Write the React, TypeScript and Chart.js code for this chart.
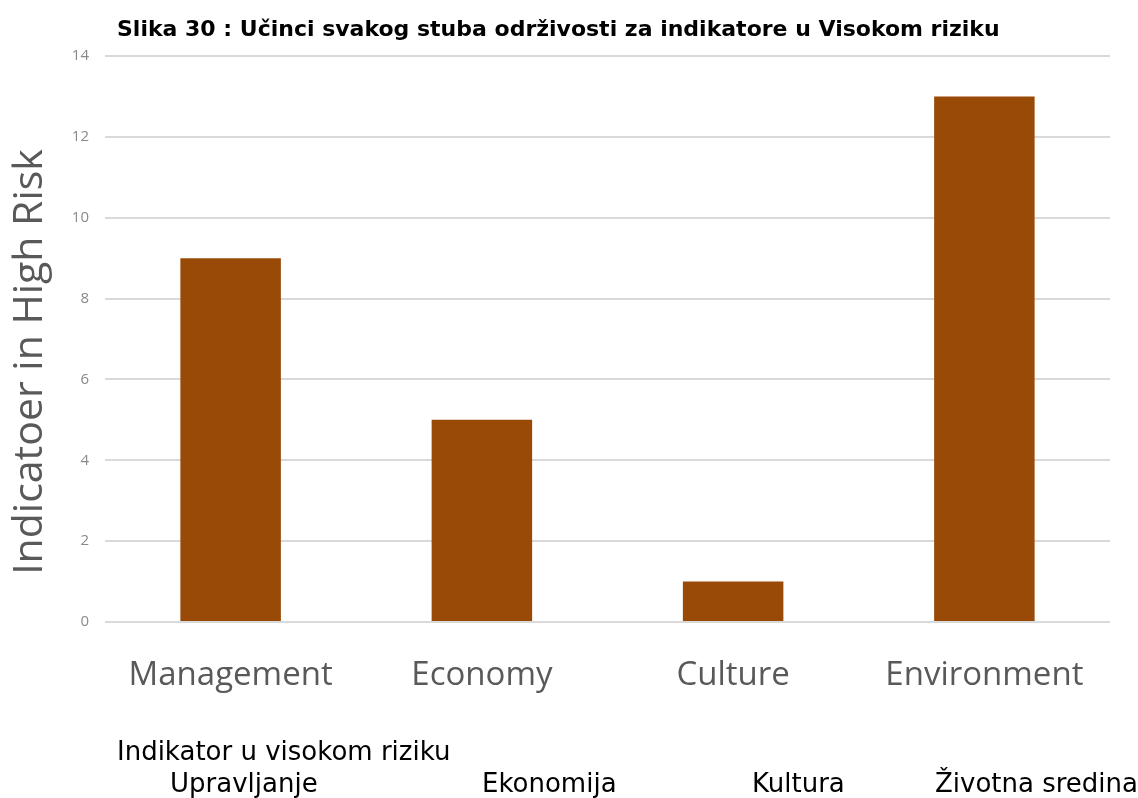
import React, { useEffect, useRef } from "react";
import { Chart, registerables } from "chart.js";

Chart.register(...registerables);

const categories = ["Management", "Economy", "Culture", "Environment"];
const values = [9, 5, 1, 13];
const yMin = 0;
const yMax = 14;
const yStep = 2;
const chartTitle = "Slika 30 : Učinci svakog stuba održivosti za indikatore u Visokom riziku";
const yAxisTitle = "Indicatoer in High Risk";
const captionLine = "Indikator u visokom riziku";
const translations = ["Upravljanje", "Ekonomija", "Kultura", "Životna sredina"];

const W = 1138;
const H = 798;

const textPlugin = {
  id: "extraText",
  afterDraw(chart: any) {
    const ctx = chart.ctx;
    ctx.save();
    // main title
    ctx.fillStyle = "#000000";
    ctx.textBaseline = "alphabetic";
    ctx.textAlign = "left";
    ctx.font = "bold 22px 'DejaVu Sans'";
    ctx.fillText(chartTitle, 117, 36);
    // caption below chart
    ctx.font = "26px 'DejaVu Sans'";
    ctx.fillText(captionLine, 117, 760);
    const xs = [170, 482, 752, 935];
    translations.forEach((t, i) => ctx.fillText(t, xs[i], 792));
    // y axis title
    ctx.save();
    ctx.translate(30, 362);
    ctx.rotate(-Math.PI / 2);
    ctx.textAlign = "center";
    ctx.textBaseline = "middle";
    ctx.fillStyle = "#595959";
    ctx.font = "41px 'Open Sans'";
    ctx.fillText(yAxisTitle, 0, 0);
    ctx.restore();
    ctx.restore();
  },
};

export default function App() {
  const ref = useRef<HTMLCanvasElement | null>(null);
  useEffect(() => {
    document.body.style.margin = "0";
    if (!ref.current) return;
    const chart = new Chart(ref.current, {
      type: "bar",
      data: {
        labels: categories,
        datasets: [
          {
            data: values,
            backgroundColor: "#9A4A07",
            barPercentage: 0.4,
            categoryPercentage: 1,
          },
        ],
      },
      options: {
        animation: false,
        responsive: false,
        layout: { padding: { top: 56, right: 28, bottom: 96, left: 0 } },
        plugins: { legend: { display: false }, tooltip: { enabled: false }, title: { display: false } },
        scales: {
          x: {
            grid: { display: false },
            border: { display: false },
            ticks: {
              padding: 26,
              color: "#595959",
              font: { family: "'Open Sans'", size: 33 },
              maxRotation: 0,
              autoSkip: false,
            },
            afterFit: (s: any) => {
              s.height = 80;
            },
          },
          y: {
            min: yMin,
            max: yMax,
            ticks: {
              stepSize: yStep,
              padding: 16,
              color: "#8a8a8a",
              font: { family: "'Open Sans'", size: 15 },
            },
            grid: { color: "#d9d9d9", lineWidth: 2, drawTicks: false },
            border: { display: false },
            afterFit: (s: any) => {
              s.width = 105;
            },
          },
        },
      },
      plugins: [textPlugin],
    });
    return () => chart.destroy();
  }, []);
  return (
    <div style={{ width: W, height: H }}>
      <canvas ref={ref} width={W} height={H} style={{ width: W, height: H, display: "block" }} />
    </div>
  );
}
